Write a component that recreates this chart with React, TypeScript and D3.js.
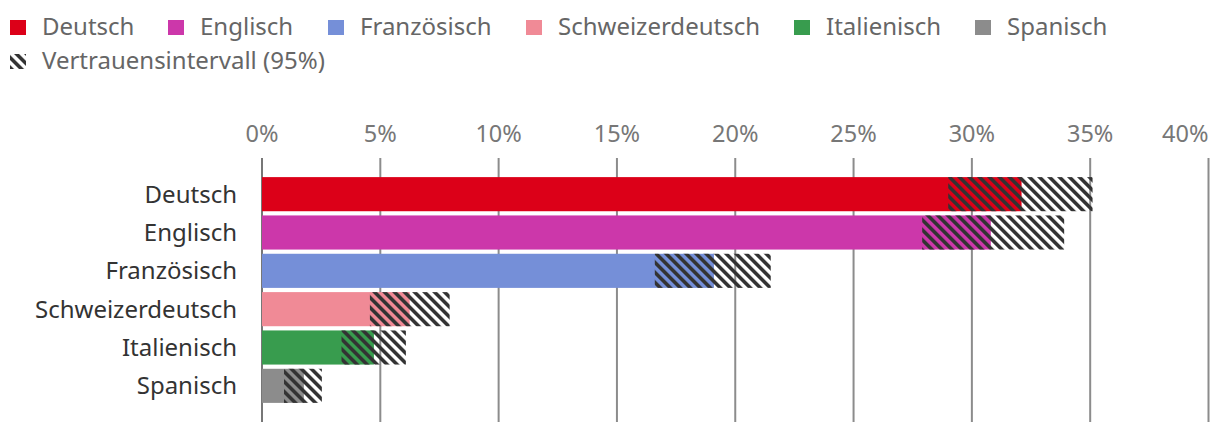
import * as d3 from "d3";

const categories = ["Deutsch", "Englisch", "Französisch", "Schweizerdeutsch", "Italienisch", "Spanisch"];
const estimates = [0.321, 0.308, 0.191, 0.0624, 0.0473, 0.0177];
const lowerBounds = [0.29, 0.279, 0.166, 0.0456, 0.0336, 0.0093];
const upperBounds = [0.351, 0.339, 0.215, 0.0793, 0.0608, 0.0253];
const colors = ["#dc0018", "#cc37aa", "#758fd8", "#f08a96", "#389c4e", "#8c8c8c"];
const tickValues = [0, 0.05, 0.1, 0.15, 0.2, 0.25, 0.3, 0.35, 0.4];
const ciLabel = "Vertrauensintervall (95%)";

const width = 1220;
const height = 432;
const font = "'Noto Sans', 'Open Sans', sans-serif";

// legend x offsets for the first row
const legendX = [10, 168, 328, 526, 794, 975];

const App = () => {
  const x = d3.scaleLinear([0, 0.4], [262, 1208.5]);
  const y = d3
    .scaleBand<string>()
    .domain(categories)
    .range([175, 405])
    .paddingInner(0.11)
    .paddingOuter(0.055);
  const fmt = d3.format(".0%");

  return (
    <svg
      width={width}
      height={height}
      style={{ position: "absolute", left: 0, top: 0, fontFamily: font }}
    >
      <defs>
        <pattern
          id='hatch'
          patternUnits='userSpaceOnUse'
          width={7.07}
          height={7.07}
          patternTransform='rotate(-45)'
        >
          <rect x={0} y={0} width={3.6} height={7.07} fill='#333' />
        </pattern>
      </defs>

      {/* legend */}
      <g fontSize={24} fill='#666'>
        {categories.map((c, i) => (
          <g key={c} transform={`translate(${legendX[i]},0)`}>
            <rect x={0} y={20} width={16} height={15} fill={colors[i]} />
            <text x={32} y={35}>
              {c}
            </text>
          </g>
        ))}
        <rect x={10} y={54} width={16} height={15} fill='url(#hatch)' />
        <text x={42} y={69}>
          {ciLabel}
        </text>
      </g>

      {/* grid + ticks */}
      <g>
        {tickValues.map((t, i) => {
          const last = i === tickValues.length - 1;
          return (
            <g key={t}>
              <line
                x1={x(t)}
                x2={x(t)}
                y1={158}
                y2={422}
                stroke={t === 0 ? "#777" : "#8c8c8c"}
                strokeWidth={2}
              />
              <text
                x={x(t)}
                y={142}
                textAnchor={last ? "end" : "middle"}
                fontSize={23.5}
                fill='#777'
              >
                {fmt(t)}
              </text>
            </g>
          );
        })}
      </g>

      {/* bars */}
      <g>
        {categories.map((c, i) => {
          const y0 = y(c)!;
          const h = y.bandwidth();
          return (
            <g key={c}>
              <rect
                x={x(0)}
                y={y0}
                width={x(estimates[i]) - x(0)}
                height={h}
                fill={colors[i]}
              />
              <rect
                x={x(lowerBounds[i])}
                y={y0}
                width={x(upperBounds[i]) - x(lowerBounds[i])}
                height={h}
                fill='url(#hatch)'
              />
            </g>
          );
        })}
      </g>

      {/* category labels */}
      <g fontSize={24} fill='#333' textAnchor='end'>
        {categories.map((c) => (
          <text key={c} x={237} y={y(c)! + y.bandwidth() / 2} dy='0.35em'>
            {c}
          </text>
        ))}
      </g>
    </svg>
  );
};

export default App;
